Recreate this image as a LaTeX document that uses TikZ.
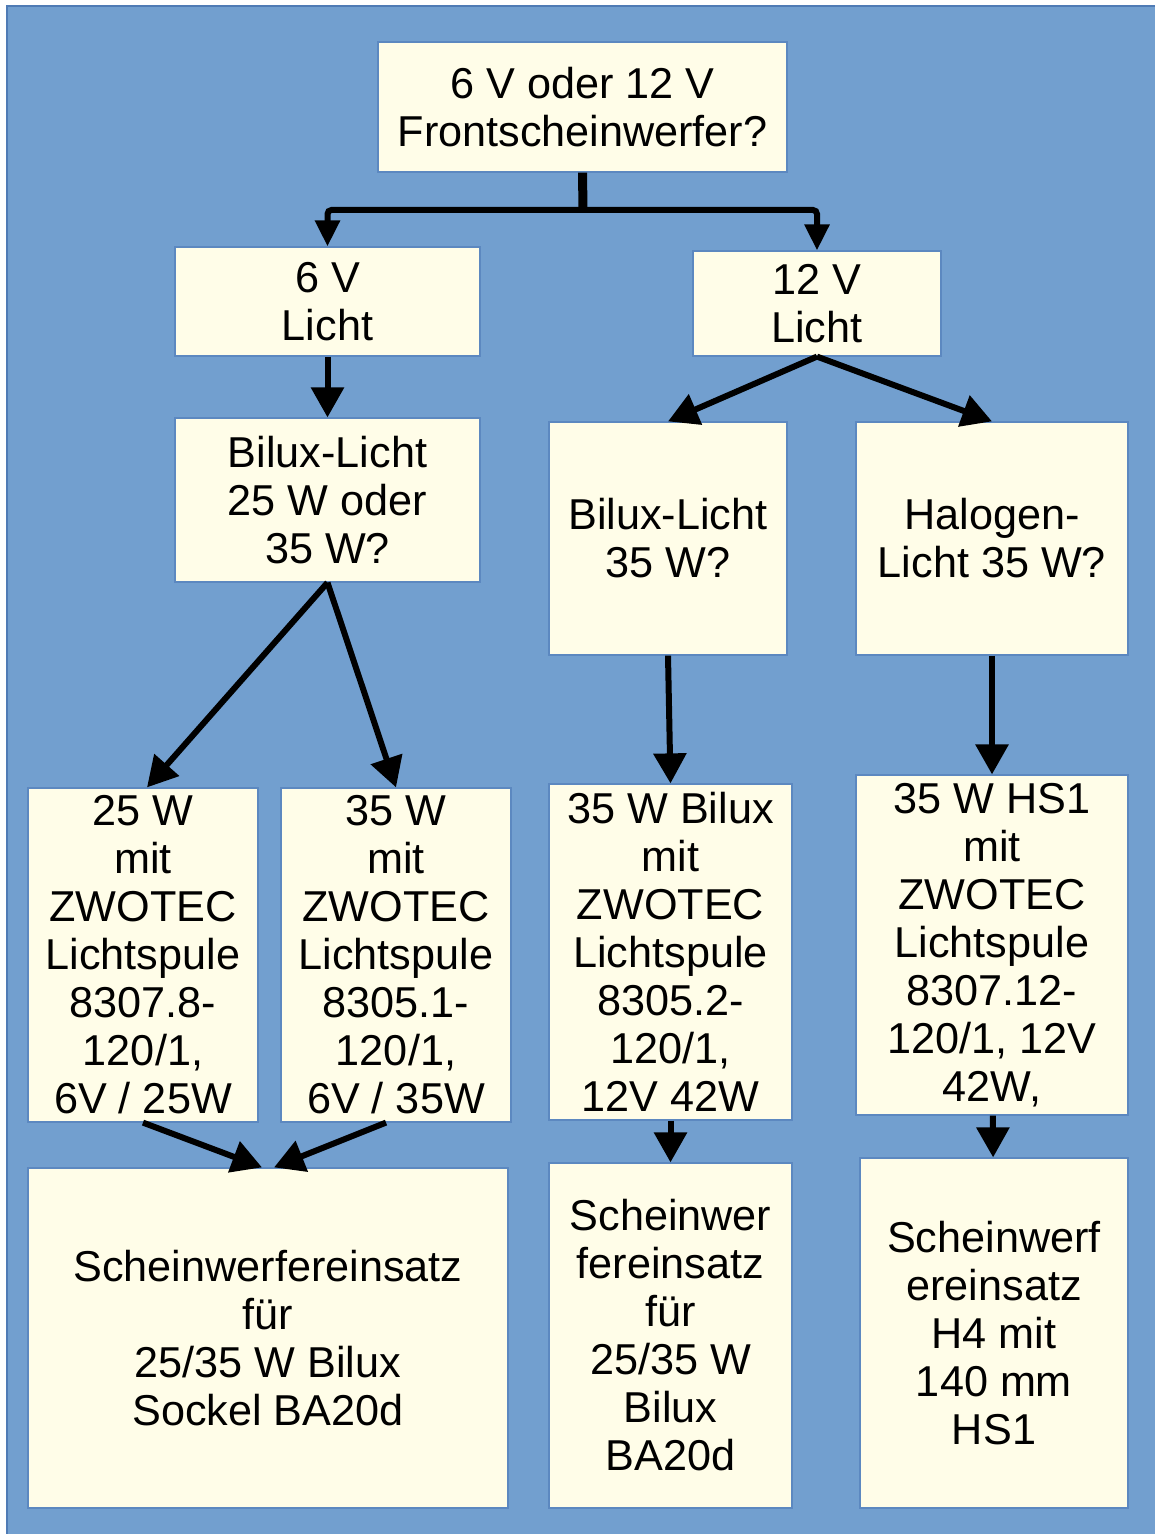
\documentclass[tikz,border=0pt]{standalone}
\usepackage{fontspec}
\setmainfont{Liberation Sans}
\usetikzlibrary{arrows.meta, positioning}
\definecolor{bgBlue}{HTML}{729FCF}
\definecolor{bgEdge}{HTML}{4F7BB5}
\definecolor{boxFill}{HTML}{FFFDE8}
\definecolor{boxEdge}{HTML}{5C88C0}

\begin{document}
\begin{tikzpicture}[x=0.5pt, y=-0.5pt,
      box/.style={draw=boxEdge, line width=0.6pt, fill=boxFill, align=center,
                  inner sep=0pt, font=\fontsize{21.6}{24}\selectfont},
      arr/.style={line width=3pt, -{Triangle[length=15pt, width=16pt]}},
      arrs/.style={line width=3pt, -{Triangle[length=13pt, width=12pt]}, rounded corners=2pt}]
    \useasboundingbox (0,0) rectangle (1155,1534);
    \fill[bgBlue] (7,6) rectangle (1155,1534);
    \draw[bgEdge, line width=1pt] (1155,6) -- (7,6) -- (7,1534);

    % question boxes
    \node[box, minimum width=204.5pt, minimum height=65pt]   (top)     at (582.5,107)  {6 V oder 12 V\\Frontscheinwerfer?};
    \node[box, minimum width=152.5pt, minimum height=54.5pt] (v6)      at (327.5,301.5) {6 V\\Licht};
    \node[box, minimum width=124pt,   minimum height=52.5pt] (v12)     at (817,303.5)  {12 V\\Licht};
    \node[box, minimum width=152.5pt, minimum height=82pt]   (bilux6)  at (327.5,500)  {Bilux-Licht\\25 W oder\\35 W?};
    \node[box, minimum width=119pt,   minimum height=116.5pt] (bilux12) at (668,538.5) {Bilux-Licht\\35 W?};
    \node[box, minimum width=136pt,   minimum height=116.5pt] (halogen) at (992,538.5) {Halogen-\\Licht 35 W?};

    % lamp boxes
    \node[box, minimum width=115pt,   minimum height=167pt] (w25)  at (143,955)   {25 W\\mit\\ZWOTEC\\Lichtspule\\8307.8-\\120/1,\\6V / 25W};
    \node[box, minimum width=115pt,   minimum height=167pt] (w35)  at (396,955)   {35 W\\mit\\ZWOTEC\\Lichtspule\\8305.1-\\120/1,\\6V / 35W};
    \node[box, minimum width=121.5pt, minimum height=168pt] (bx35) at (670.5,952) {35 W Bilux\\mit\\ZWOTEC\\Lichtspule\\8305.2-\\120/1,\\12V 42W};
    \node[box, minimum width=136pt,   minimum height=170pt] (hs1)  at (992,945)   {35 W HS1\\mit\\ZWOTEC\\Lichtspule\\8307.12-\\120/1, 12V\\42W,};

    % inserts
    \node[box, minimum width=240pt,   minimum height=170pt]   (sw6)  at (268,1338)    {Scheinwerfereinsatz\\für\\25/35 W Bilux\\Sockel BA20d};
    \node[box, minimum width=121.5pt, minimum height=172.5pt] (sw12) at (670.5,1335.5) {Scheinwer\\fereinsatz\\für\\25/35 W\\Bilux\\BA20d};
    \node[box, minimum width=134pt,   minimum height=175pt]   (swh)  at (994,1333)    {Scheinwerf\\ereinsatz\\H4 mit\\140 mm\\HS1};

    \coordinate (split) at (583,210);
    \draw[line width=4.5pt] (top.south) -- (split);
    \draw[arrs] (split) -| (v6.north);
    \draw[arrs] (split) -| (v12.north);
    \draw[arr] (v6) -- (bilux6);
    \draw[arr] (v12.south) -- (bilux12.north);
    \draw[arr] (v12.south) -- (halogen.north);
    \draw[arr] (bilux6.south) -- ([xshift=2pt]w25.north);
    \draw[arr] (bilux6.south) -- (w35.north);
    \draw[arr] (bilux12.south) -- (bx35.north);
    \draw[arr] (halogen.south) -- (hs1.north);
    \draw[arr] (w25.south) -- ([xshift=-3pt]sw6.north);
    \draw[arr] ([xshift=-5pt]w35.south) -- ([xshift=3pt]sw6.north);
    \draw[arr] (bx35) -- (sw12);
    \draw[arr] (hs1) -- (swh);
  \end{tikzpicture}
\end{document}
